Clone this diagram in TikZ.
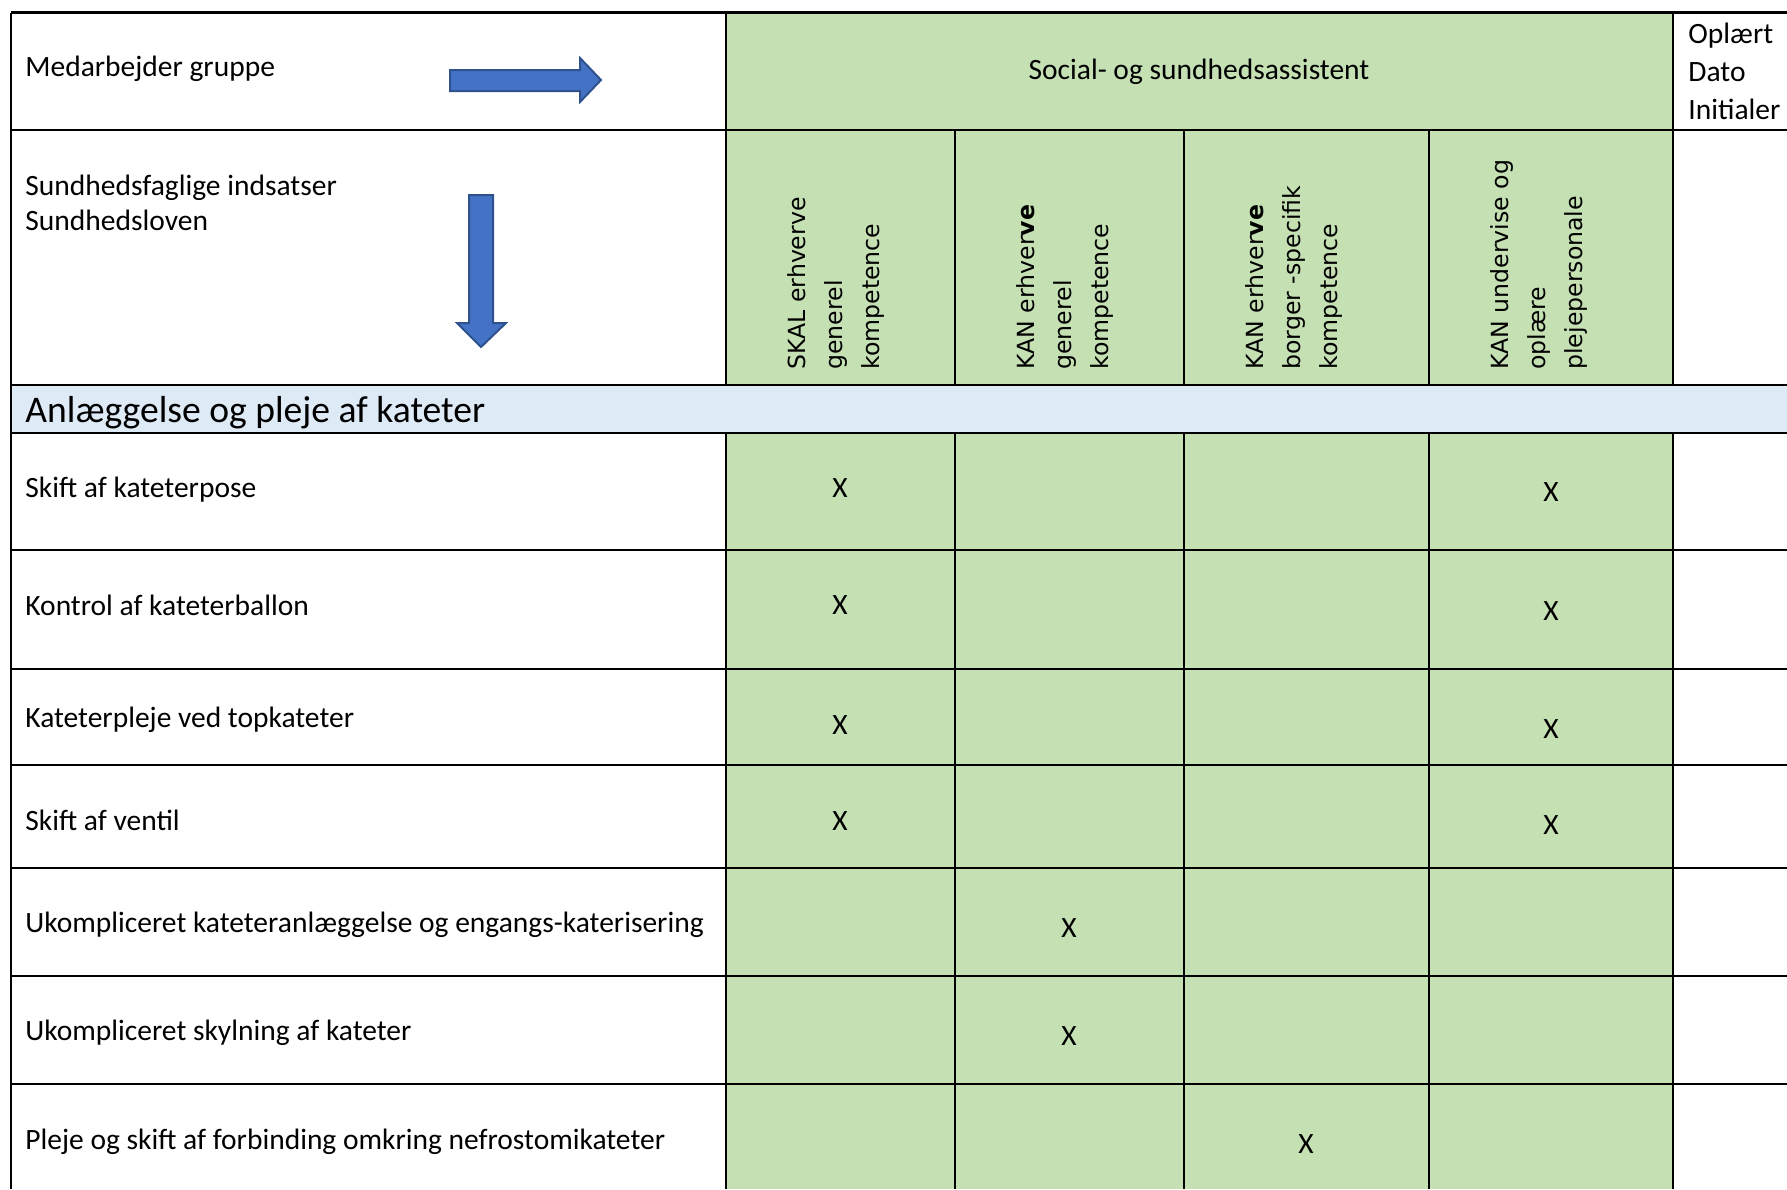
\documentclass[tikz,border=0pt]{standalone}
\usepackage{fontspec}
\setmainfont{Carlito}
\newfontfamily\vfont{DejaVu Sans}
\definecolor{cgreen}{HTML}{C5E0B3}
\definecolor{cblue}{HTML}{DEEAF6}
\definecolor{afill}{HTML}{4472C4}
\definecolor{aline}{HTML}{2F528F}
\begin{document}
\begin{tikzpicture}[x=0.5pt,y=-0.5pt,
  lbl/.style={anchor=base west, inner sep=0pt, font=\fontsize{14.75}{17}\selectfont},
  xmark/.style={anchor=base, inner sep=0pt, font=\fontsize{14.75}{17}\selectfont},
  vhead/.style={rotate=90, anchor=north west, inner sep=0pt, align=left, font=\vfont\fontsize{11.8}{18.5}\selectfont},
  rowline/.style={line width=1.25pt},
  colline/.style={line width=0.8pt},
  blockarrow/.style={fill=afill, draw=aline, line width=1pt, line join=miter},
]
\useasboundingbox (0,0) rectangle (1787,1189);
\fill[white] (0,0) rectangle (1787,1189);
% fills
\fill[cgreen] (726,12.5) rectangle (1673,385);
\fill[cgreen] (726,433) rectangle (1673,1189);
\fill[cblue] (11,385) rectangle (1787,433);
% horizontal lines
\foreach \yy in {12.5,130,385,433,550,669,765,868,976,1084}
  \draw[rowline] (11,\yy) -- (1787,\yy);
% vertical lines
\draw[rowline] (11,12.5) -- (11,1189);
\draw[rowline] (726,12.5) -- (726,385) (726,433) -- (726,1189);
\draw[colline] (1673,12.5) -- (1673,385) (1673,433) -- (1673,1189);
\foreach \xx in {955,1184,1429}
  \draw[colline] (\xx,130) -- (\xx,385) (\xx,433) -- (\xx,1189);
% header texts
\node[lbl] (med) at (25,76) {Medarbejder gruppe};
\node[xmark] (ssa) at (1199,79) {Social- og sundhedsassistent};
\node[lbl] (opl) at (1688,43) {Oplært};
\node[lbl] (dato) at (1688,81) {Dato};
\node[lbl] (init) at (1688,119) {Initialer};
\node[lbl] (sf1) at (25,195) {Sundhedsfaglige indsatser};
\node[lbl] (sf2) at (25,230) {Sundhedsloven};
% arrows
\draw[blockarrow] (450,70) -- (580,70) -- (580,58) -- (601,80) -- (580,102) -- (580,91) -- (450,91) -- cycle;
\draw[blockarrow] (469,195) -- (493,195) -- (493,323) -- (506,323) -- (481,347) -- (457,323) -- (469,323) -- cycle;
% rotated column headers
\node[vhead] (h1) at (787,370) {SKAL erhverve\\generel\\kompetence};
\node[vhead] (h2) at (1016,370) {KAN erhver\textbf{ve}\\generel\\kompetence};
\node[vhead] (h3) at (1245,370) {KAN erhver\textbf{ve}\\borger -specifik\\kompetence};
\node[vhead] (h4) at (1490,370) {KAN undervise og\\oplære\\plejepersonale};
% section band
\node[lbl, font=\fontsize{18.8}{22}\selectfont] (sec) at (25,422) {Anlæggelse og pleje af kateter};
% row labels
\node[lbl] (r1) at (25,497) {Skift af kateterpose};
\node[lbl] (r2) at (25,615) {Kontrol af kateterballon};
\node[lbl] (r3) at (25,727) {Kateterpleje ved topkateter};
\node[lbl] (r4) at (25,830) {Skift af ventil};
\node[lbl] (r5) at (25,932) {Ukompliceret kateteranlæggelse og engangs-katerisering};
\node[lbl] (r6) at (25,1040) {Ukompliceret skylning af kateter};
\node[lbl] (r7) at (25,1149) {Pleje og skift af forbinding omkring nefrostomikateter};
% marks
\node[xmark] (x11) at (840,497) {X};
\node[xmark] (x21) at (840,614) {X};
\node[xmark] (x31) at (840,734) {X};
\node[xmark] (x41) at (840,830) {X};
\node[xmark] (x14) at (1551,501) {X};
\node[xmark] (x24) at (1551,620) {X};
\node[xmark] (x34) at (1551,738) {X};
\node[xmark] (x44) at (1551,834) {X};
\node[xmark] (x52) at (1069,937) {X};
\node[xmark] (x62) at (1069,1045) {X};
\node[xmark] (x73) at (1306,1153) {X};
\end{tikzpicture}
\end{document}
